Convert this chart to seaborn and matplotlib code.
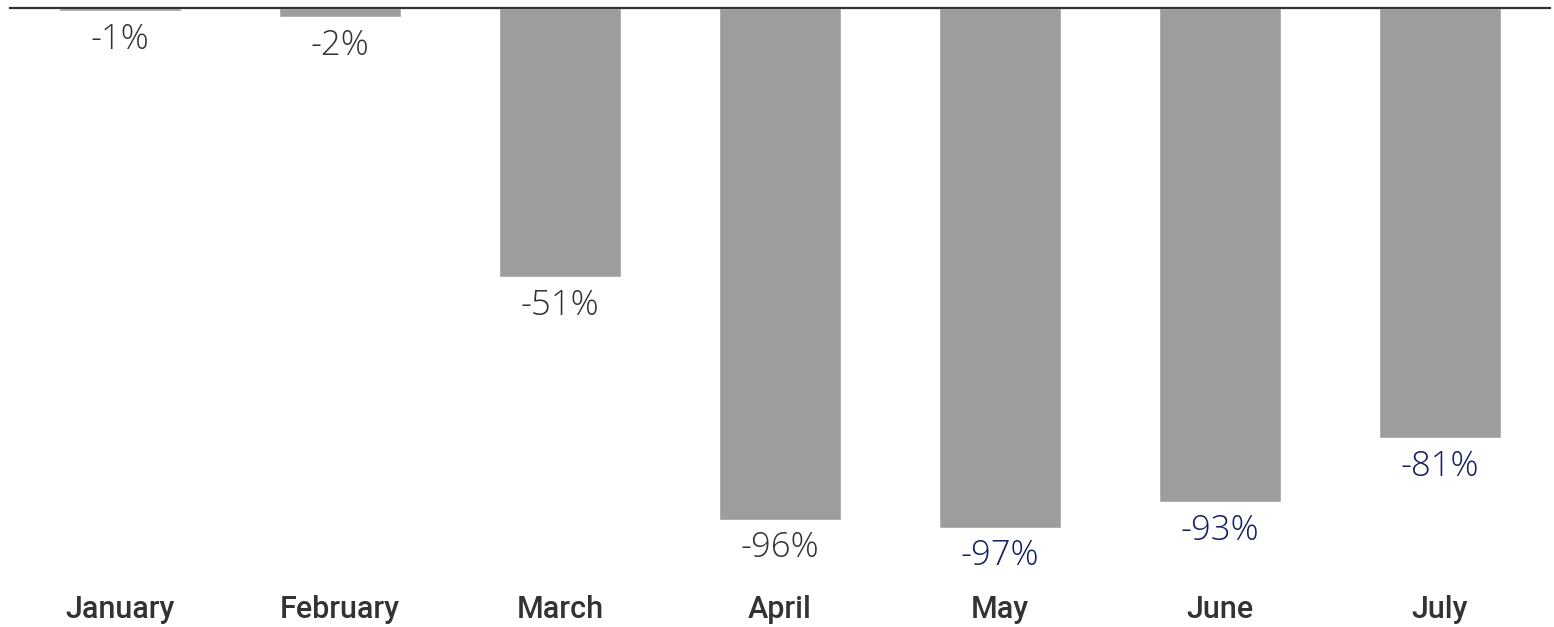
import pandas as pd
import matplotlib.pyplot as plt
import seaborn as sns

months = ['January', 'February', 'March', 'April', 'May', 'June', 'July']
change = [-0.6, -1.7, -50.6, -96.2, -97.7, -92.9, -80.8]
labels = ['-1%', '-2%', '-51%', '-96%', '-97%', '-93%', '-81%']
label_colors = ['#333333', '#333333', '#333333', '#333333', '#122060', '#122060', '#122060']

df = pd.DataFrame({'month': months, 'change': change})

sns.set_style('white')
fig = plt.figure(figsize=(15.54, 6.27), dpi=100)
ax = fig.add_axes([10 / 1554, 47 / 627, 1540 / 1554, 572 / 627])

sns.barplot(x='month', y='change', data=df, color='#9d9d9d', saturation=1,
            width=0.555, ax=ax)

ax.set_ylim(-107.5, 0)
ax.set_xlim(-0.5, 6.5)
ax.set_xlabel('')
ax.set_ylabel('')
ax.set_yticks([])

for s in ['left', 'right', 'bottom']:
    ax.spines[s].set_visible(False)
ax.spines['top'].set_color('#333333')
ax.spines['top'].set_linewidth(1.6)

ax.tick_params(axis='x', length=0, pad=11, labelsize=22, labelcolor='#333333')
for t in ax.get_xticklabels():
    t.set_family(['Roboto', 'DejaVu Sans'])
    t.set_fontweight('medium')

# value labels just under the end of each bar
for i, (v, lab, c) in enumerate(zip(change, labels, label_colors)):
    ax.annotate(lab, xy=(i, v), xytext=(0, -8), textcoords='offset points',
                ha='center', va='top', fontsize=25, color=c,
                family=['Open Sans', 'DejaVu Sans'], fontweight='light')

fig.savefig('out.png', dpi=100)
